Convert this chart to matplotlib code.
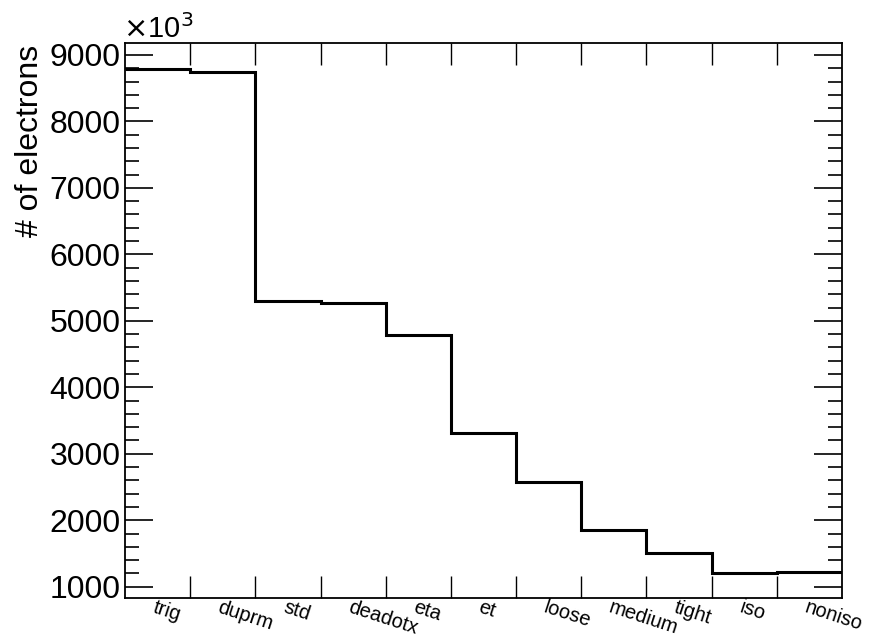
import matplotlib
matplotlib.use("Agg")
import matplotlib.pyplot as plt
import numpy as np
from matplotlib.ticker import MultipleLocator, FixedLocator, NullFormatter

plt.rcParams['font.family'] = ['Liberation Sans', 'DejaVu Sans']

categories = ["trig", "duprm", "std", "deadotx", "eta", "et", "loose",
              "medium", "tight", "iso", "noniso"]
counts = [8790, 8745, 5305, 5266, 4785, 3311, 2577, 1860, 1507, 1205, 1225]

W, H = 871, 639
fig = plt.figure(figsize=(W / 100, H / 100), dpi=100)
ax = fig.add_axes([125 / W, 1 - 598.3 / H, (842 - 125) / W, (598.3 - 43) / H])

edges = np.arange(len(categories) + 1)
ax.stairs(counts, edges, baseline=None, color='black', linewidth=2.2)

ax.set_xlim(edges[0], edges[-1])
ax.set_ylim(826, 9180)

ax.yaxis.set_major_locator(MultipleLocator(1000))
ax.yaxis.set_minor_locator(MultipleLocator(200))
ax.xaxis.set_major_locator(FixedLocator(edges[1:-1]))
ax.xaxis.set_major_formatter(NullFormatter())

ax.tick_params(axis='y', which='major', direction='in', length=20, width=1.2,
               left=True, right=True, labelsize=23, pad=3)
ax.tick_params(axis='y', which='minor', direction='in', length=10, width=1.2,
               left=True, right=True)
ax.tick_params(axis='x', which='major', direction='in', length=16, width=1.0,
               top=True, bottom=True)
for s in ax.spines.values():
    s.set_linewidth(1.3)

# category labels at bin centres, rotated
centres = edges[:-1] + 0.5
for c, lab in zip(centres, categories):
    ax.annotate(lab, xy=(c, 0), xycoords=('data', 'axes fraction'),
                xytext=(-1, 0.5), textcoords='offset points',
                rotation=-18, rotation_mode='anchor', ha='left', va='top',
                fontsize=14.5)

fig.text(30 / W, 1 - 45 / H, "# of electrons", rotation=90, ha='right',
         va='center', rotation_mode='anchor', fontsize=23)
fig.text(123 / W, 1 - 38 / H, r"$\times$10$^{3}$", ha='left', va='baseline',
         fontsize=21)

fig.savefig("out.png", dpi=100)
